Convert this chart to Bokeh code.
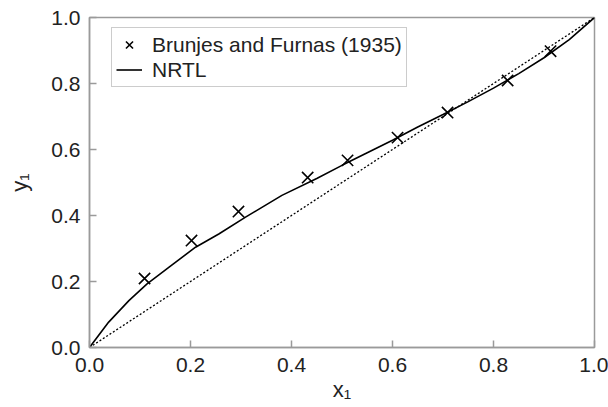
from bokeh.plotting import figure
from bokeh.models import Range1d, FixedTicker, Legend, LegendItem, CustomJSTickFormatter
from bokeh.embed import file_html
from bokeh.resources import INLINE

# Experimental data: Brunjes and Furnas (1935)
exp_x = [0.109, 0.202, 0.295, 0.432, 0.511, 0.610, 0.709, 0.828, 0.913]
exp_y = [0.209, 0.324, 0.412, 0.515, 0.567, 0.636, 0.712, 0.809, 0.898]

# NRTL model curve
nrtl_x = [0.0, 0.038, 0.078, 0.114, 0.157, 0.21, 0.256, 0.309, 0.381, 0.45,
          0.50, 0.55, 0.60, 0.65, 0.70, 0.75, 0.80, 0.85, 0.90, 0.95, 1.0]
nrtl_y = [0.0, 0.077, 0.142, 0.193, 0.243, 0.304, 0.344, 0.395, 0.461, 0.512,
          0.552, 0.590, 0.628, 0.668, 0.706, 0.745, 0.786, 0.830, 0.878, 0.933, 1.0]

# Diagonal y = x
diag_x = [0.0, 1.0]
diag_y = [0.0, 1.0]

ticks = [0.0, 0.2, 0.4, 0.6, 0.8, 1.0]
font = "Liberation Sans"
grey = "#9a9a9a"

p = figure(width=608, height=407, output_backend="svg", toolbar_location=None,
           x_range=Range1d(0, 1), y_range=Range1d(0, 1),
           min_border_left=89, min_border_right=14, min_border_top=17, min_border_bottom=60)
p.border_fill_color = "white"
p.grid.visible = False
p.outline_line_color = grey
p.outline_line_width = 1.5

for ax in (p.xaxis[0], p.yaxis[0]):
    ax.ticker = FixedTicker(ticks=ticks)
    ax.major_tick_in = 7
    ax.major_tick_out = 0
    ax.minor_tick_in = 0
    ax.minor_tick_out = 0
    ax.axis_line_color = grey
    ax.axis_line_width = 1.5
    ax.major_tick_line_color = grey
    ax.major_tick_line_width = 1.5
    ax.major_label_text_font = font
    ax.major_label_text_font_size = "21px"
    ax.major_label_text_color = "#222222"
    ax.axis_label_text_font = font
    ax.axis_label_text_font_size = "22px"
    ax.axis_label_text_font_style = "normal"
    ax.axis_label_text_color = "#222222"
    ax.formatter = CustomJSTickFormatter(code="return tick.toFixed(1);")

p.xaxis[0].major_label_standoff = 10
p.yaxis[0].major_label_standoff = 9
p.xaxis[0].axis_label = "x₁"
p.yaxis[0].axis_label = "y₁"
p.xaxis[0].axis_label_standoff = 2
p.yaxis[0].axis_label_standoff = 16

p.line(diag_x, diag_y, line_color="black", line_width=1.3, line_dash="2 2")
r_line = p.line(nrtl_x, nrtl_y, line_color="black", line_width=1.6)
r_pts = p.scatter(exp_x, exp_y, marker="x", size=16, line_color="black", line_width=1.6)

legend = Legend(items=[LegendItem(label="Brunjes and Furnas (1935)", renderers=[r_pts]),
                       LegendItem(label="NRTL", renderers=[r_line])],
                location=(22, 260))
legend.border_line_color = grey
legend.border_line_width = 1.5
legend.label_text_font = font
legend.label_text_font_size = "21px"
legend.label_text_color = "#222222"
legend.padding = 4
legend.margin = 0
legend.spacing = 0
legend.glyph_width = 26
legend.label_standoff = 10
legend.label_height = 25
legend.glyph_height = 25
legend.background_fill_alpha = 1
p.add_layout(legend, "center")

open("out.html", "w").write(file_html(p, INLINE))
